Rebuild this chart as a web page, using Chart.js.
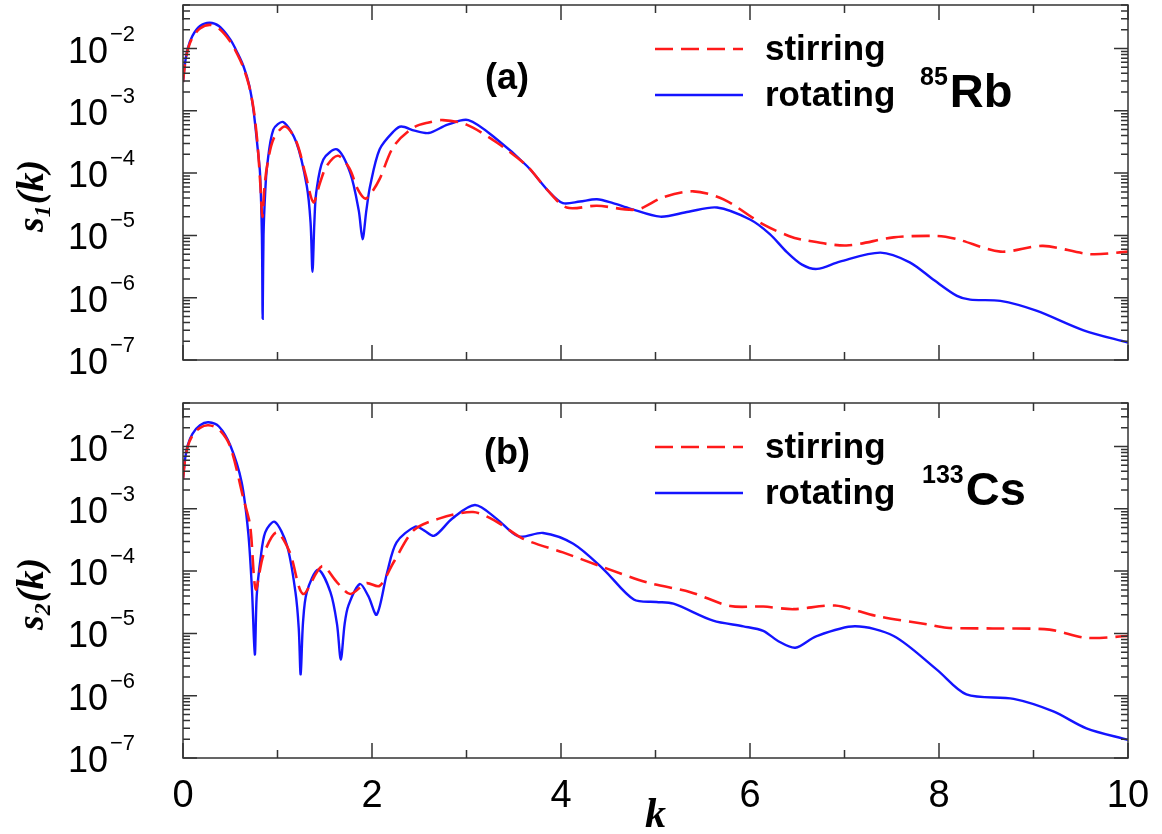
<!DOCTYPE html>
<html>
<head>
<meta charset="utf-8">
<script src="https://cdn.jsdelivr.net/npm/chart.js@4/dist/chart.umd.min.js"></script>
<style>
  body { margin: 0; background: #fff; }
  canvas.panel { position: absolute; left: 0; }
</style>
</head>
<body>
<canvas id="chartA" class="panel" width="1162" height="382" style="top:0px"></canvas>
<canvas id="chartB" class="panel" width="1162" height="449" style="top:385px"></canvas>
<script>
// --- data ---
// (a) 85Rb
const kStirA = [0, 0.02, 0.05, 0.1, 0.18, 0.28, 0.38, 0.5, 0.58, 0.64, 0.7, 0.75, 0.79, 0.82, 0.84, 0.86, 0.89, 0.96, 1.08, 1.2, 1.3, 1.38, 1.45, 1.52, 1.64, 1.76, 1.85, 1.93, 2.0, 2.08, 2.23, 2.44, 2.6, 2.75, 3.0, 3.32, 3.64, 3.85, 4.06, 4.38, 4.8, 5.08, 5.4, 5.72, 6.14, 6.41, 6.56, 7.02, 7.52, 7.98, 8.19, 8.65, 9.1, 9.6, 10];
const sStirA = [2.9e-3, 5.4e-3, 9.5e-3, 1.5e-2, 2.1e-2, 2.4e-2, 2.1e-2, 1.3e-2, 7.8e-3, 4.9e-3, 2.5e-3, 1.0e-3, 2.8e-4, 6.0e-5, 2.0e-5, 5.5e-5, 1.3e-4, 3.6e-4, 5.6e-4, 3.2e-4, 9.0e-5, 3.4e-5, 7.0e-5, 1.3e-4, 1.9e-4, 1.2e-4, 5.5e-5, 3.9e-5, 5.0e-5, 8.0e-5, 2.7e-4, 5.4e-4, 6.5e-4, 7.1e-4, 6.0e-4, 3.1e-4, 1.3e-4, 5.5e-5, 2.8e-5, 3.0e-5, 2.6e-5, 4.1e-5, 5.1e-5, 3.8e-5, 1.5e-5, 9.8e-6, 8.5e-6, 6.9e-6, 9.3e-6, 9.8e-6, 8.7e-6, 5.5e-6, 6.8e-6, 5.0e-6, 5.5e-6];
const kRotA = [0, 0.02, 0.05, 0.1, 0.18, 0.28, 0.38, 0.5, 0.58, 0.64, 0.7, 0.745, 0.79, 0.815, 0.835, 0.843, 0.852, 0.87, 0.89, 0.956, 1.06, 1.2, 1.31, 1.35, 1.37, 1.39, 1.41, 1.485, 1.63, 1.77, 1.86, 1.9, 1.94, 1.98, 2.08, 2.23, 2.31, 2.45, 2.6, 2.8, 3.02, 3.32, 3.64, 3.88, 4.02, 4.2, 4.38, 4.55, 4.73, 5.05, 5.35, 5.65, 6.0, 6.21, 6.39, 6.55, 6.71, 6.95, 7.38, 7.69, 7.95, 8.19, 8.33, 8.65, 9.03, 9.53, 10];
const sRotA = [2.9e-3, 5.6e-3, 1.0e-2, 1.6e-2, 2.3e-2, 2.6e-2, 2.3e-2, 1.4e-2, 8.3e-3, 5.2e-3, 2.6e-3, 1.05e-3, 2.5e-4, 1.0e-4, 1.0e-5, 4.6e-7, 1.0e-5, 5.0e-5, 1.3e-4, 5.0e-4, 6.6e-4, 3.1e-4, 6.2e-5, 1.6e-5, 2.6e-6, 1.6e-5, 4.9e-5, 1.66e-4, 2.4e-4, 1.0e-4, 2.5e-5, 8.7e-6, 2.5e-5, 6.2e-5, 2.4e-4, 4.7e-4, 5.6e-4, 4.8e-4, 4.4e-4, 6.0e-4, 7.1e-4, 3.5e-4, 1.3e-4, 4.9e-5, 3.3e-5, 3.5e-5, 3.8e-5, 3.3e-5, 2.7e-5, 2.0e-5, 2.4e-5, 2.8e-5, 1.8e-5, 1.05e-5, 5.4e-6, 3.4e-6, 2.9e-6, 3.8e-6, 5.3e-6, 3.7e-6, 1.9e-6, 1.07e-6, 9.3e-7, 8.9e-7, 6.2e-7, 3.0e-7, 1.9e-7];

// (b) 133Cs
const kStirB = [0, 0.02, 0.05, 0.1, 0.18, 0.27, 0.38, 0.5, 0.64, 0.71, 0.77, 0.85, 0.99, 1.13, 1.27, 1.47, 1.63, 1.77, 1.94, 2.08, 2.23, 2.44, 2.7, 3.07, 3.32, 3.6, 4.02, 4.45, 4.91, 5.37, 5.79, 6.14, 6.46, 6.9, 7.34, 7.87, 8.08, 8.57, 9.17, 9.56, 10];
const sStirB = [3.0e-3, 5.8e-3, 1.0e-2, 1.5e-2, 2.0e-2, 2.2e-2, 1.9e-2, 1.0e-2, 1.45e-3, 5.4e-4, 5.1e-5, 1.8e-4, 4.2e-4, 2.0e-4, 4.3e-5, 1.2e-4, 6.6e-5, 4.3e-5, 6.4e-5, 5.8e-5, 1.4e-4, 4.5e-4, 6.9e-4, 8.9e-4, 6.2e-4, 3.3e-4, 2.0e-4, 1.15e-4, 6.6e-5, 4.6e-5, 2.75e-5, 2.7e-5, 2.45e-5, 2.8e-5, 1.9e-5, 1.4e-5, 1.23e-5, 1.2e-5, 1.15e-5, 8.5e-6, 9.1e-6];
const kRotB = [0, 0.02, 0.05, 0.1, 0.18, 0.27, 0.38, 0.5, 0.62, 0.69, 0.73, 0.76, 0.78, 0.82, 0.87, 0.97, 1.1, 1.19, 1.225, 1.245, 1.27, 1.31, 1.43, 1.56, 1.63, 1.67, 1.71, 1.75, 1.87, 1.96, 2.05, 2.16, 2.26, 2.46, 2.55, 2.66, 2.85, 3.09, 3.32, 3.55, 3.81, 4.13, 4.45, 4.77, 5.01, 5.19, 5.61, 5.93, 6.14, 6.3, 6.48, 6.7, 7.11, 7.52, 7.98, 8.29, 8.79, 9.21, 9.56, 10];
const sRotB = [3.0e-3, 6.0e-3, 1.05e-2, 1.6e-2, 2.2e-2, 2.45e-2, 2.1e-2, 1.05e-2, 2.7e-3, 4.2e-4, 5.0e-5, 4.6e-6, 4.0e-5, 1.55e-4, 4.2e-4, 6.2e-4, 2.6e-4, 4.6e-5, 1.2e-5, 2.2e-6, 1.5e-5, 4.6e-5, 1.05e-4, 4.6e-5, 1.4e-5, 3.8e-6, 1.4e-5, 2.8e-5, 6.2e-5, 4.0e-5, 2.0e-5, 9.5e-5, 2.9e-4, 5.2e-4, 4.5e-4, 3.7e-4, 7.0e-4, 1.15e-3, 6.9e-4, 3.6e-4, 4.1e-4, 2.75e-4, 1.07e-4, 3.5e-5, 3.2e-5, 3.0e-5, 1.6e-5, 1.3e-5, 1.1e-5, 7.5e-6, 5.9e-6, 9.0e-6, 1.3e-5, 9.1e-6, 2.6e-6, 1.05e-6, 8.9e-7, 5.6e-7, 3.0e-7, 1.95e-7];

// axes
const xTicks = [0, 1, 2, 3, 4, 5, 6, 7, 8, 9, 10];
const xLabelled = [0, 2, 4, 6, 8, 10];
const yDecades = [-7, -6, -5, -4, -3, -2];
const yMinorFactors = [2, 3, 4, 5, 6, 7, 8, 9];
const yMin = 1e-7, yMax = 5e-2;

const RED = '#ff1a1a', BLUE = '#1414ff', FRAME = '#333';
const SANS = '"Liberation Sans", Arial, Helvetica, sans-serif';
const SERIF = '"Liberation Serif", "Times New Roman", serif';

function pts(ks, ss) { return ks.map((k, i) => ({ x: k, y: ss[i] })); }

const yTickList = [];
yDecades.forEach(d => {
  const base = Math.pow(10, d);
  yTickList.push({ value: base, major: true });
  yMinorFactors.forEach(f => { if (f * base <= yMax * 1.0001) yTickList.push({ value: f * base, major: false }); });
});

// draws frame, inward ticks, tick labels, titles and the in-plot legend
const panelPlugin = {
  id: 'panel',
  afterDatasetsDraw(chart, args, o) {
    const ctx = chart.ctx, a = chart.chartArea;
    const xs = chart.scales.x, ys = chart.scales.y;
    ctx.save();
    ctx.strokeStyle = FRAME;
    ctx.lineWidth = 1.5;
    ctx.strokeRect(a.left, a.top, a.right - a.left, a.bottom - a.top);

    ctx.beginPath();
    xTicks.forEach(v => {
      const px = xs.getPixelForValue(v);
      const len = v % 2 === 0 ? 15 : 8;
      ctx.moveTo(px, a.bottom); ctx.lineTo(px, a.bottom - len);
      ctx.moveTo(px, a.top); ctx.lineTo(px, a.top + len);
    });
    yTickList.forEach(t => {
      const py = ys.getPixelForValue(t.value);
      const len = t.major ? 14 : 7;
      ctx.moveTo(a.left, py); ctx.lineTo(a.left + len, py);
      ctx.moveTo(a.right, py); ctx.lineTo(a.right - len, py);
    });
    ctx.stroke();

    // y tick labels 10^n
    ctx.fillStyle = '#000';
    yDecades.forEach(d => {
      const py = ys.getPixelForValue(Math.pow(10, d));
      ctx.font = '36px ' + SANS;
      ctx.textAlign = 'right';
      ctx.textBaseline = 'alphabetic';
      ctx.fillText('10', 108, py + 14);
      ctx.font = '22px ' + SANS;
      ctx.textAlign = 'left';
      ctx.fillText('\u2212' + Math.abs(d), 110, py - 8);
    });

    // x tick labels + title
    if (o.showX) {
      ctx.font = '38px ' + SANS;
      ctx.textAlign = 'center';
      xLabelled.forEach(v => ctx.fillText(String(v), xs.getPixelForValue(v), a.bottom + 49));
      ctx.font = 'italic bold 42px ' + SERIF;
      ctx.fillText('k', (a.left + a.right) / 2, a.bottom + 69);
    }

    // y title s_n(k), rotated
    ctx.save();
    ctx.translate(43, (a.top + a.bottom) / 2 + 14);
    ctx.rotate(-Math.PI / 2);
    const fMain = 'italic bold 38px ' + SERIF, fSub = 'italic bold 24px ' + SERIF;
    ctx.font = fMain; const w1 = ctx.measureText('s').width, w3 = ctx.measureText('(k)').width;
    ctx.font = fSub; const w2 = ctx.measureText(o.sub).width;
    let x0 = -(w1 + w2 + w3) / 2;
    ctx.textAlign = 'left';
    ctx.font = fMain; ctx.fillText('s', x0, 0); x0 += w1;
    ctx.font = fSub; ctx.fillText(o.sub, x0, 7); x0 += w2 + 1;
    ctx.font = fMain; ctx.fillText('(k)', x0, 0);
    ctx.restore();

    // panel label
    ctx.font = 'bold 36px ' + SANS;
    ctx.textAlign = 'center';
    ctx.fillText(o.tag, a.left + 324, a.top + o.tagDy);

    // legend
    const ds = chart.data.datasets;
    const rows = [44, 90];
    ds.forEach((d, i) => {
      const ly = a.top + rows[i];
      ctx.save();
      ctx.strokeStyle = d.borderColor;
      ctx.lineWidth = d.borderWidth;
      ctx.setLineDash(d.borderDash || []);
      ctx.beginPath();
      ctx.moveTo(a.left + 472, ly); ctx.lineTo(a.left + 560, ly);
      ctx.stroke();
      ctx.restore();
      ctx.font = 'bold 35px ' + SANS;
      ctx.textAlign = 'left';
      ctx.fillText(d.label, a.left + 582, ly + 11);
    });

    // isotope
    ctx.textAlign = 'left';
    ctx.font = 'bold 25px ' + SANS;
    ctx.fillText(o.mass, a.left + o.massX, a.top + 80);
    const mw = ctx.measureText(o.mass).width;
    ctx.font = 'bold 47px ' + SANS;
    ctx.fillText(o.elem, a.left + o.massX + mw + 2, a.top + 102);
    ctx.restore();
  }
};

function makeChart(id, stirK, stirS, rotK, rotS, pad, xHeight, opts) {
  return new Chart(document.getElementById(id), {
    type: 'line',
    data: {
      datasets: [
        { label: 'stirring', data: pts(stirK, stirS), borderColor: RED, borderWidth: 2.6, borderDash: [18, 8], pointRadius: 0, tension: 0.3, fill: false },
        { label: 'rotating', data: pts(rotK, rotS), borderColor: BLUE, borderWidth: 2.4, pointRadius: 0, tension: 0.3, fill: false }
      ]
    },
    options: {
      responsive: false,
      animation: false,
      events: [],
      layout: { padding: { top: pad, right: 34, left: 0, bottom: 0 } },
      plugins: { legend: { display: false }, tooltip: { enabled: false }, panel: opts },
      scales: {
        x: {
          type: 'linear', min: 0, max: 10,
          grid: { display: false }, border: { display: false },
          ticks: { display: false },
          afterBuildTicks: s => { s.ticks = xTicks.map(v => ({ value: v })); },
          afterFit: s => { s.height = xHeight; }
        },
        y: {
          type: 'logarithmic', min: yMin, max: yMax,
          grid: { display: false }, border: { display: false },
          ticks: { display: false },
          afterBuildTicks: s => { s.ticks = yTickList.map(t => ({ value: t.value })); },
          afterFit: s => { s.width = 183; }
        }
      }
    },
    plugins: [panelPlugin]
  });
}

makeChart('chartA', kStirA, sStirA, kRotA, sRotA, 5, 22,
  { showX: false, sub: '1', tag: '(a)', tagDy: 84, mass: '85', elem: 'Rb', massX: 737 });
makeChart('chartB', kStirB, sStirB, kRotB, sRotB, 18, 76,
  { showX: true, sub: '2', tag: '(b)', tagDy: 61, mass: '133', elem: 'Cs', massX: 739 });
</script>
</body>
</html>
